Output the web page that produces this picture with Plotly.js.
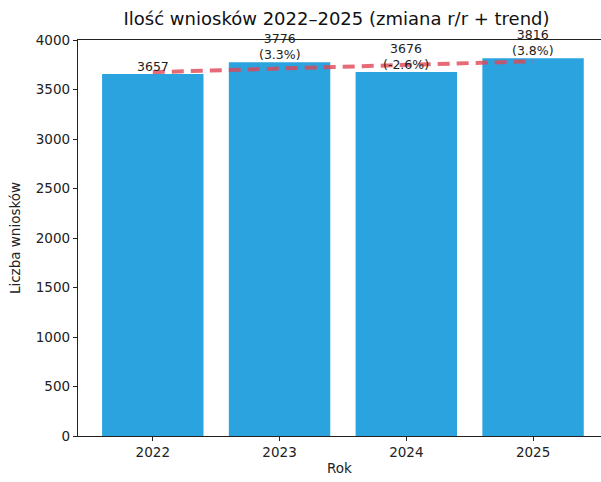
<!DOCTYPE html>
<html><head><meta charset="utf-8">
<script src="https://cdn.plot.ly/plotly-3.0.1.min.js"></script>
<style>html,body{margin:0;padding:0;background:#fff;overflow:hidden}</style>
</head><body>
<div id="chart" style="width:601px;height:482px"></div>
<script>
const years = ['2022', '2023', '2024', '2025'];
const counts = [3657, 3776, 3676, 3816];
const yoyLabels = ['', '(3.3%)', '(-2.6%)', '(3.8%)'];
const trendYears = ['2022', '2025'];
const trendValues = [3675, 3785];
const yTicks = [0, 500, 1000, 1500, 2000, 2500, 3000, 3500, 4000];

const font = 'DejaVu Sans, sans-serif';

const bars = {
  type: 'bar', x: years, y: counts,
  marker: {color: '#2ba3df', line: {width: 0}},
  hoverinfo: 'none'
};
const trend = {
  type: 'scatter', mode: 'lines', x: trendYears, y: trendValues,
  line: {color: 'rgba(225,70,85,0.8)', width: 4, dash: '12px,7px'},
  hoverinfo: 'none'
};

// category axis: annotations positioned by category index
const annotations = years.map((yr, i) => ({
  x: i, y: counts[i], xref: 'x', yref: 'y',
  text: yoyLabels[i] ? counts[i] + '<br>' + yoyLabels[i] : String(counts[i]),
  showarrow: false, yanchor: 'bottom', yshift: -2,
  font: {family: font, size: 12.5, color: '#222'}
}));

const layout = {
  width: 601, height: 482,
  margin: {l: 78, r: 0, t: 40, b: 46},
  paper_bgcolor: '#fff', plot_bgcolor: '#fff',
  showlegend: false,
  bargap: 0.2,
  title: {text: 'Ilość wniosków 2022–2025 (zmiana r/r + trend)', x: 0.56, xanchor: 'center', y: 0.962, yanchor: 'middle',
          font: {family: font, size: 18, color: '#111'}},
  xaxis: {
    type: 'category', range: [-0.59, 3.536],
    showline: true, linecolor: '#222', linewidth: 1.2, mirror: true,
    ticks: 'outside', ticklen: 4, tickcolor: '#222',
    showgrid: false, zeroline: false,
    tickfont: {family: font, size: 13.5, color: '#222'},
    title: {text: 'Rok', standoff: 4, font: {family: font, size: 13.5, color: '#222'}}
  },
  yaxis: {
    range: [0, 4000], tickvals: yTicks, ticktext: yTicks.map(String),
    showline: true, linecolor: '#222', linewidth: 1.2,
    ticks: 'outside', ticklen: 4, tickcolor: '#222',
    showgrid: false, zeroline: false,
    tickfont: {family: font, size: 13.5, color: '#222'},
    title: {text: 'Liczba wniosków', standoff: 12, font: {family: font, size: 13.5, color: '#222'}}
  },
  annotations: annotations
};

Plotly.newPlot('chart', [bars, trend], layout, {staticPlot: true, displayModeBar: false});
</script>
</body></html>
